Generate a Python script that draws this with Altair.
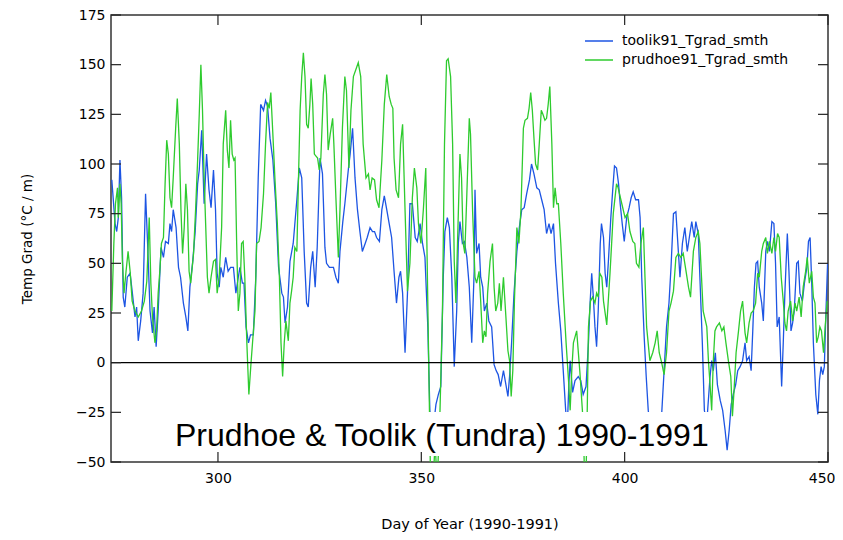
import altair as alt
import pandas as pd

# ---------------- data ----------------
series_names = ["toolik91_Tgrad_smth", "prudhoe91_Tgrad_smth"]
series_colors = ["#1d55e3", "#2ecb2e"]

toolik_day = [
    273.9, 274.7, 275.1, 275.5, 275.9, 276.3, 276.7, 277.1, 277.7, 278.4, 278.9, 279.6, 280.0, 280.4,
    281.0, 281.6, 282.2, 282.7, 283.3, 283.9, 284.3, 284.8, 285.3, 286.0, 286.6, 287.1, 287.8, 288.2,
    288.6, 289.0, 289.7, 290.3, 290.8, 291.5, 292.1, 292.6, 293.1, 293.8, 294.4, 295.0, 295.4, 296.0,
    296.6, 297.2, 297.8, 298.3, 298.9, 299.4, 299.8, 300.3, 300.7, 301.3, 301.9, 302.5, 303.1, 303.8,
    304.4, 305.0, 305.4, 306.0, 306.4, 306.9, 307.5, 308.0, 308.7, 309.3, 309.9, 310.5, 311.2, 311.7,
    312.2, 312.8, 313.5, 314.2, 314.9, 315.7, 316.1, 316.5, 317.1, 317.7, 318.5, 319.4, 320.0, 320.6,
    321.2, 321.8, 322.2, 322.8, 323.3, 323.9, 324.4, 325.1, 325.7, 326.3, 326.7, 327.4, 328.4, 329.0,
    329.6, 330.0, 330.7, 331.2, 332.1, 332.5, 333.1, 333.7, 334.3, 334.9, 335.5, 336.2, 336.7, 337.4,
    338.0, 338.5, 339.0, 339.7, 340.3, 340.9, 341.5, 342.1, 342.7, 343.3, 343.9, 344.5, 344.9, 345.4,
    346.0, 346.6, 347.2, 347.8, 348.5, 349.0, 349.7, 350.3, 350.9, 351.6, 352.1, 352.6, 353.1, 353.6,
    354.2, 354.8, 355.4, 355.8, 356.4, 356.9, 357.5, 358.1, 358.7, 359.1, 359.5, 360.1, 360.6, 361.2,
    361.8, 362.4, 363.0, 363.2, 363.6, 364.2, 364.6, 365.1, 365.5, 366.1, 366.6, 367.3, 367.9, 368.4,
    368.9, 369.5, 370.2, 370.8, 371.3, 371.7, 372.2, 372.8, 373.5, 374.1, 374.7, 375.3, 375.9, 376.6,
    377.1, 377.7, 378.4, 379.0, 379.6, 380.2, 380.8, 381.4, 381.9, 382.5, 383.0, 383.7, 384.3, 384.9,
    385.5, 385.9, 386.3, 386.6, 387.2, 387.8, 388.6, 389.2, 389.8, 390.5, 391.1, 391.5, 391.9, 392.3,
    392.7, 393.1, 393.5, 394.0, 394.3, 394.8, 395.2, 395.6, 396.0, 396.6, 397.1, 397.5, 398.0, 398.5,
    398.9, 399.4, 399.9, 400.5, 401.1, 401.6, 402.1, 402.7, 403.4, 403.8, 404.2, 404.8, 405.3, 405.8,
    406.5, 407.3, 408.3, 409.1, 409.7, 410.3, 410.9, 411.4, 412.0, 412.6, 413.2, 413.6, 414.2, 414.8,
    415.4, 415.9, 416.5, 417.1, 417.5, 418.1, 418.5, 419.1, 419.6, 420.2, 421.0, 421.4, 421.8, 422.3,
    422.8, 423.5, 424.1, 424.7, 425.2, 425.7, 426.2, 426.7, 427.3, 427.8, 428.4, 429.0, 429.6, 430.0,
    430.6, 431.1, 431.5, 431.9, 432.3, 432.7, 433.1, 433.7, 434.1, 434.7, 435.1, 435.6, 436.2, 436.7,
    437.1, 437.5, 438.0, 438.6, 439.0, 439.4, 440.0, 440.4, 440.9, 441.3, 441.7, 442.3, 442.7, 443.1,
    443.7, 444.2, 444.8, 445.2, 445.6, 446.0, 446.4, 447.0, 447.5, 447.9, 448.3, 448.7, 449.1, 449.5,
    449.9,
]
toolik_val = [
    92, 70, 66, 73, 102, 83, 33, 28, 43, 45, 36, 23, 28, 11,
    21, 35, 85, 60, 26, 15, 28, 8, 26, 58, 53, 61, 60, 70,
    66, 77, 68, 48, 43, 30, 23, 16, 38, 51, 66, 90, 97, 117,
    80, 105, 87, 78, 97, 77, 45, 38, 48, 43, 53, 46, 48, 48,
    35, 43, 48, 40, 40, 18, 10, 14, 14, 43, 93, 130, 127, 132,
    129, 113, 102, 80, 48, 35, 33, 20, 28, 51, 60, 82, 98, 93,
    56, 30, 28, 48, 56, 38, 58, 103, 95, 58, 50, 48, 48, 43,
    40, 56, 71, 80, 98, 105, 118, 93, 77, 66, 56, 60, 63, 68,
    66, 66, 63, 61, 77, 84, 77, 70, 63, 46, 30, 43, 46, 35,
    5, 35, 80, 80, 63, 61, 70, 60, 53, 18, -24, -35, -30, -21,
    -16, -12, 43, 66, 73, 68, 43, -2, 26, 60, 71, 60, 61, 53,
    38, 10, 46, 87, 55, 60, 43, 38, 26, 30, 21, 18, -1, -4,
    -6, -12, -4, -11, -17, -7, 10, 35, 56, 68, 77, 78, 85, 92,
    100, 95, 88, 87, 82, 77, 65, 70, 65, 70, 50, 30, 16, -4,
    -24, -32, -10, 1, -15, -9, -7, -9, -16, -12, 10, 30, 45, 33,
    18, 8, 26, 60, 70, 63, 45, 38, 51, 73, 88, 99, 98, 90,
    80, 70, 61, 73, 78, 83, 86, 82, 82, 73, 43, 13, -7, -24,
    -36, -40, -35, -26, -4, 18, 30, 48, 75, 76, 56, 43, 60, 68,
    56, 63, 71, 63, 71, 65, 43, 10, -24, -30, -7, 1, -4, 5,
    -11, -19, -24, -34, -44, -34, -21, -16, -11, -4, -2, 1, 10, 1,
    3, -4, 16, 38, 50, 51, 38, 30, 21, 56, 61, 56, 71, 70,
    50, 18, 23, -12, 10, 35, 65, 46, 16, 20, 26, 50, 51, 35,
    31, 40, 48, 61, 63, 40, 10, -16, -26, -9, -2, -6, -2, 26,
    50,
]

prudhoe_day = [
    273.9, 274.4, 274.8, 275.3, 275.5, 275.9, 276.2, 276.5, 276.9, 277.4, 277.9, 278.4, 278.9, 279.6,
    280.4, 281.2, 281.9, 282.5, 283.1, 283.5, 283.9, 284.5, 284.9, 285.3, 285.7, 286.1, 286.6, 287.0,
    287.4, 287.8, 288.2, 288.6, 289.0, 289.6, 290.0, 290.5, 290.9, 291.3, 291.7, 292.1, 292.5, 292.9,
    293.3, 294.0, 294.5, 295.0, 295.4, 295.8, 296.2, 296.6, 297.0, 297.4, 297.8, 298.3, 298.9, 299.4,
    299.8, 300.3, 300.9, 301.3, 301.9, 302.3, 302.7, 303.1, 303.5, 303.9, 304.2, 304.6, 305.0, 305.4,
    305.8, 306.2, 306.6, 307.1, 307.6, 308.1, 308.5, 309.1, 309.5, 310.1, 310.6, 311.2, 311.7, 312.2,
    312.6, 313.0, 313.5, 314.0, 314.6, 315.1, 315.5, 315.9, 316.3, 316.7, 317.3, 317.7, 318.1, 318.5,
    318.9, 319.4, 319.8, 320.2, 320.6, 321.0, 321.4, 321.8, 322.2, 322.6, 322.9, 323.3, 323.7, 324.1,
    324.5, 324.9, 325.3, 325.9, 326.3, 326.7, 327.1, 327.6, 328.2, 328.5, 329.0, 329.6, 330.0, 330.6,
    331.2, 331.6, 332.2, 332.7, 333.3, 334.5, 335.1, 335.7, 336.4, 337.0, 337.4, 337.9, 338.5, 339.0,
    339.6, 340.3, 340.9, 341.5, 342.1, 342.6, 343.0, 343.3, 343.8, 344.4, 344.9, 345.4, 346.0, 346.6,
    347.2, 347.8, 348.3, 348.9, 349.3, 349.9, 350.5, 351.1, 351.5, 352.0, 352.3, 352.9, 353.4, 353.9,
    354.6, 355.2, 355.7, 356.2, 356.6, 357.2, 357.7, 358.1, 358.5, 358.9, 359.5, 359.9, 360.3, 360.7,
    361.2, 361.8, 362.1, 362.6, 363.2, 363.6, 364.2, 364.6, 365.1, 365.5, 365.9, 366.3, 366.9, 367.5,
    367.9, 368.3, 368.8, 369.2, 369.6, 370.2, 370.8, 371.3, 371.7, 372.1, 372.5, 372.9, 373.5, 374.0,
    374.5, 375.1, 375.5, 376.1, 376.5, 376.9, 377.3, 377.7, 378.1, 378.6, 379.0, 379.5, 379.9, 380.4,
    380.8, 381.2, 381.6, 382.1, 382.5, 382.9, 383.3, 383.7, 384.3, 384.9, 385.6, 386.2, 386.6, 387.0,
    387.4, 388.2, 389.0, 389.8, 390.2, 390.5, 390.8, 391.1, 391.6, 392.1, 392.7, 393.1, 393.5, 393.9,
    394.4, 394.8, 395.6, 396.4, 397.2, 398.0, 398.4, 399.3, 400.1, 400.7, 401.3, 402.0, 402.5, 402.9,
    403.5, 404.0, 404.6, 405.0, 405.4, 406.2, 406.9, 407.5, 408.0, 408.5, 409.1, 409.7, 410.3, 410.9,
    411.4, 412.0, 412.6, 413.2, 413.8, 414.4, 415.1, 415.7, 416.2, 416.9, 417.5, 418.1, 418.5, 418.9,
    419.3, 420.2, 420.6, 421.0, 421.4, 421.8, 422.2, 422.6, 423.3, 423.9, 424.4, 424.9, 425.5, 426.1,
    426.5, 426.9, 427.4, 428.0, 428.5, 429.0, 429.6, 430.0, 430.6, 431.1, 431.6, 432.2, 432.7, 433.1,
    433.7, 434.1, 434.7, 435.1, 435.6, 436.2, 436.7, 437.1, 437.6, 438.0, 438.5, 439.0, 439.4, 439.8,
    440.2, 440.8, 441.3, 441.9, 442.3, 442.9, 443.4, 443.9, 444.5, 444.9, 445.4, 446.0, 446.4, 446.8,
    447.2, 447.6, 448.0, 448.4, 448.9, 449.3, 449.8,
]
prudhoe_val = [
    26, 60, 80, 88, 73, 90, 80, 51, 35, 46, 56, 46, 31, 26,
    23, 26, 31, 41, 73, 40, 23, 10, 16, 35, 46, 60, 63, 90,
    112, 105, 83, 78, 93, 118, 133, 110, 77, 55, 68, 90, 77, 46,
    40, 55, 77, 102, 125, 150, 127, 93, 68, 43, 35, 43, 51, 52,
    35, 43, 68, 110, 127, 107, 98, 122, 105, 102, 103, 60, 26, 35,
    60, 61, 43, 10, -16, -1, 10, 26, 60, 61, 68, 85, 110, 131,
    128, 136, 115, 93, 70, 43, 10, -7, 10, 21, 11, 30, 36, 43,
    58, 56, 93, 127, 144, 156, 144, 120, 118, 130, 143, 130, 105, 104,
    103, 97, 103, 135, 145, 135, 107, 115, 123, 110, 83, 53, 77, 118,
    144, 137, 98, 127, 144, 151, 144, 110, 93, 95, 87, 93, 92, 82,
    78, 102, 130, 145, 134, 130, 128, 103, 87, 83, 110, 120, 77, 36,
    50, 83, 98, 88, 70, 60, 77, 98, 43, -24, -62, -60, -40, -62,
    -24, 26, 110, 152, 153, 144, 110, 51, 30, 60, 105, 93, 60, 55,
    85, 123, 115, 77, 43, 40, 46, 31, 10, 16, 13, 35, 51, 60,
    38, 26, 30, 40, 26, 43, 23, 6, 1, -17, -4, 31, 68, 60,
    77, 118, 122, 123, 128, 136, 127, 113, 100, 97, 110, 127, 125, 122,
    123, 130, 139, 110, 78, 88, 80, 80, 60, 35, 10, -9, -24, -4,
    10, 16, -5, -30, -62, -58, -24, 18, 31, 33, 30, 35, 33, 45,
    43, 31, 19, 45, 75, 90, 88, 80, 73, 75, 66, 61, 60, 50,
    48, 60, 68, 43, 18, 1, 5, 10, 16, 5, 0, -6, 5, 26,
    30, 36, 53, 55, 53, 55, 46, 38, 33, 56, 63, 66, 60, 43,
    26, 18, 1, -11, -24, 1, 16, 18, 20, 16, 18, 10, 1, -7,
    -27, -14, 5, 16, 26, 31, 15, 10, 20, 25, 26, 30, 45, 43,
    56, 60, 63, 55, 61, 55, 63, 56, 65, 63, 43, 31, 20, 16,
    26, 31, 21, 30, 26, 33, 23, 38, 46, 53, 40, 46, 33, 30,
    10, 13, 18, 16, 5, 18, 31,
]

x_ticks = [300, 350, 400, 450]
y_ticks = [-50, -25, 0, 25, 50, 75, 100, 125, 150, 175]
x_domain = [273.7, 450]
y_domain = [-50, 175]
title_text = "Prudhoe & Toolik (Tundra) 1990-1991"
x_title = "Day of Year (1990-1991)"
y_title = "Temp Grad (\u00b0C / m)"

# ---------------- layout constants ----------------
W, H = 717, 447
TICK = 10
FONT = "DejaVu Sans"

rows = []
for name, days, vals in [(series_names[0], toolik_day, toolik_val),
                         (series_names[1], prudhoe_day, prudhoe_val)]:
    for i, (d, v) in enumerate(zip(days, vals)):
        rows.append({"series": name, "day": d, "val": v, "i": i})
df = pd.DataFrame(rows)

xs = alt.Scale(domain=x_domain, nice=False, zero=False)
ys = alt.Scale(domain=y_domain, nice=False, zero=False)
x_axis = alt.Axis(values=x_ticks, ticks=False, domain=False, grid=False,
                  labelPadding=9, labelFlush=True, labelFlushOffset=7,
                  title=x_title, titlePadding=32, titleFontSize=14.5)
y_axis = alt.Axis(values=y_ticks, ticks=False, domain=False, grid=False,
                  labelPadding=6, title=y_title, titlePadding=41, titleFontSize=13.5)


def X(field):
    return alt.X(field, scale=xs, axis=x_axis)


def Y(field):
    return alt.Y(field, scale=ys, axis=y_axis)


lines = alt.Chart(df).mark_line(clip=True, strokeWidth=1.3).encode(
    x=X("day:Q"),
    y=Y("val:Q"),
    color=alt.Color("series:N", scale=alt.Scale(domain=series_names, range=series_colors),
                    legend=None),
    order="i:Q",
)

zero_df = pd.DataFrame({"val": [0]})
zero_line = alt.Chart(zero_df).mark_rule(color="black", strokeWidth=1.2).encode(
    y=Y("val:Q"), x=alt.value(0), x2=alt.value(W)
)

one = pd.DataFrame({"t": [title_text]})
white_box = alt.Chart(one).mark_rect(color="white").encode(
    x=alt.value(59), x2=alt.value(605), y=alt.value(397), y2=alt.value(441)
)
big_title = alt.Chart(one).mark_text(
    align="left", baseline="alphabetic", font="Liberation Sans", fontSize=32, color="black"
).encode(x=alt.value(64), y=alt.value(431), text="t:N")

yt = pd.DataFrame({"val": y_ticks})
xt = pd.DataFrame({"day": x_ticks})
tick_style = dict(color="#222", strokeWidth=1.2)
yl = alt.Chart(yt).mark_rule(**tick_style).encode(
    y=Y("val:Q"), x=alt.value(0), x2=alt.value(TICK))
yr = alt.Chart(yt).mark_rule(**tick_style).encode(
    y=Y("val:Q"), x=alt.value(W - TICK), x2=alt.value(W))
xb = alt.Chart(xt).mark_rule(**tick_style).encode(
    x=X("day:Q"), y=alt.value(H - TICK), y2=alt.value(H))
xtp = alt.Chart(xt).mark_rule(**tick_style).encode(
    x=X("day:Q"), y=alt.value(0), y2=alt.value(TICK))

legend_layers = []
for k, (name, col) in enumerate(zip(series_names, series_colors)):
    ld = pd.DataFrame({"name": [name]})
    yy = 26 + 19 * k
    legend_layers.append(alt.Chart(ld).mark_rule(color=col, strokeWidth=1.5).encode(
        x=alt.value(474), x2=alt.value(502), y=alt.value(yy)))
    legend_layers.append(alt.Chart(ld).mark_text(
        align="left", baseline="middle", font=FONT, fontSize=14, color="black"
    ).encode(x=alt.value(511), y=alt.value(yy), text="name:N"))

chart = alt.layer(
    lines, zero_line, white_box, big_title, yl, yr, xb, xtp, *legend_layers
).properties(
    width=W, height=H,
    autosize=alt.AutoSizeParams(type="none"),
    padding={"left": 103, "top": 7, "right": 7, "bottom": 70},
).configure_view(
    stroke="#333", strokeWidth=1.5
).configure_axis(
    labelFont=FONT, labelFontSize=14, labelColor="black",
    titleFont=FONT, titleFontSize=13, titleColor="black", titleFontWeight="normal",
)

chart.save("out.html", embed_options={"renderer": "svg", "actions": False})
